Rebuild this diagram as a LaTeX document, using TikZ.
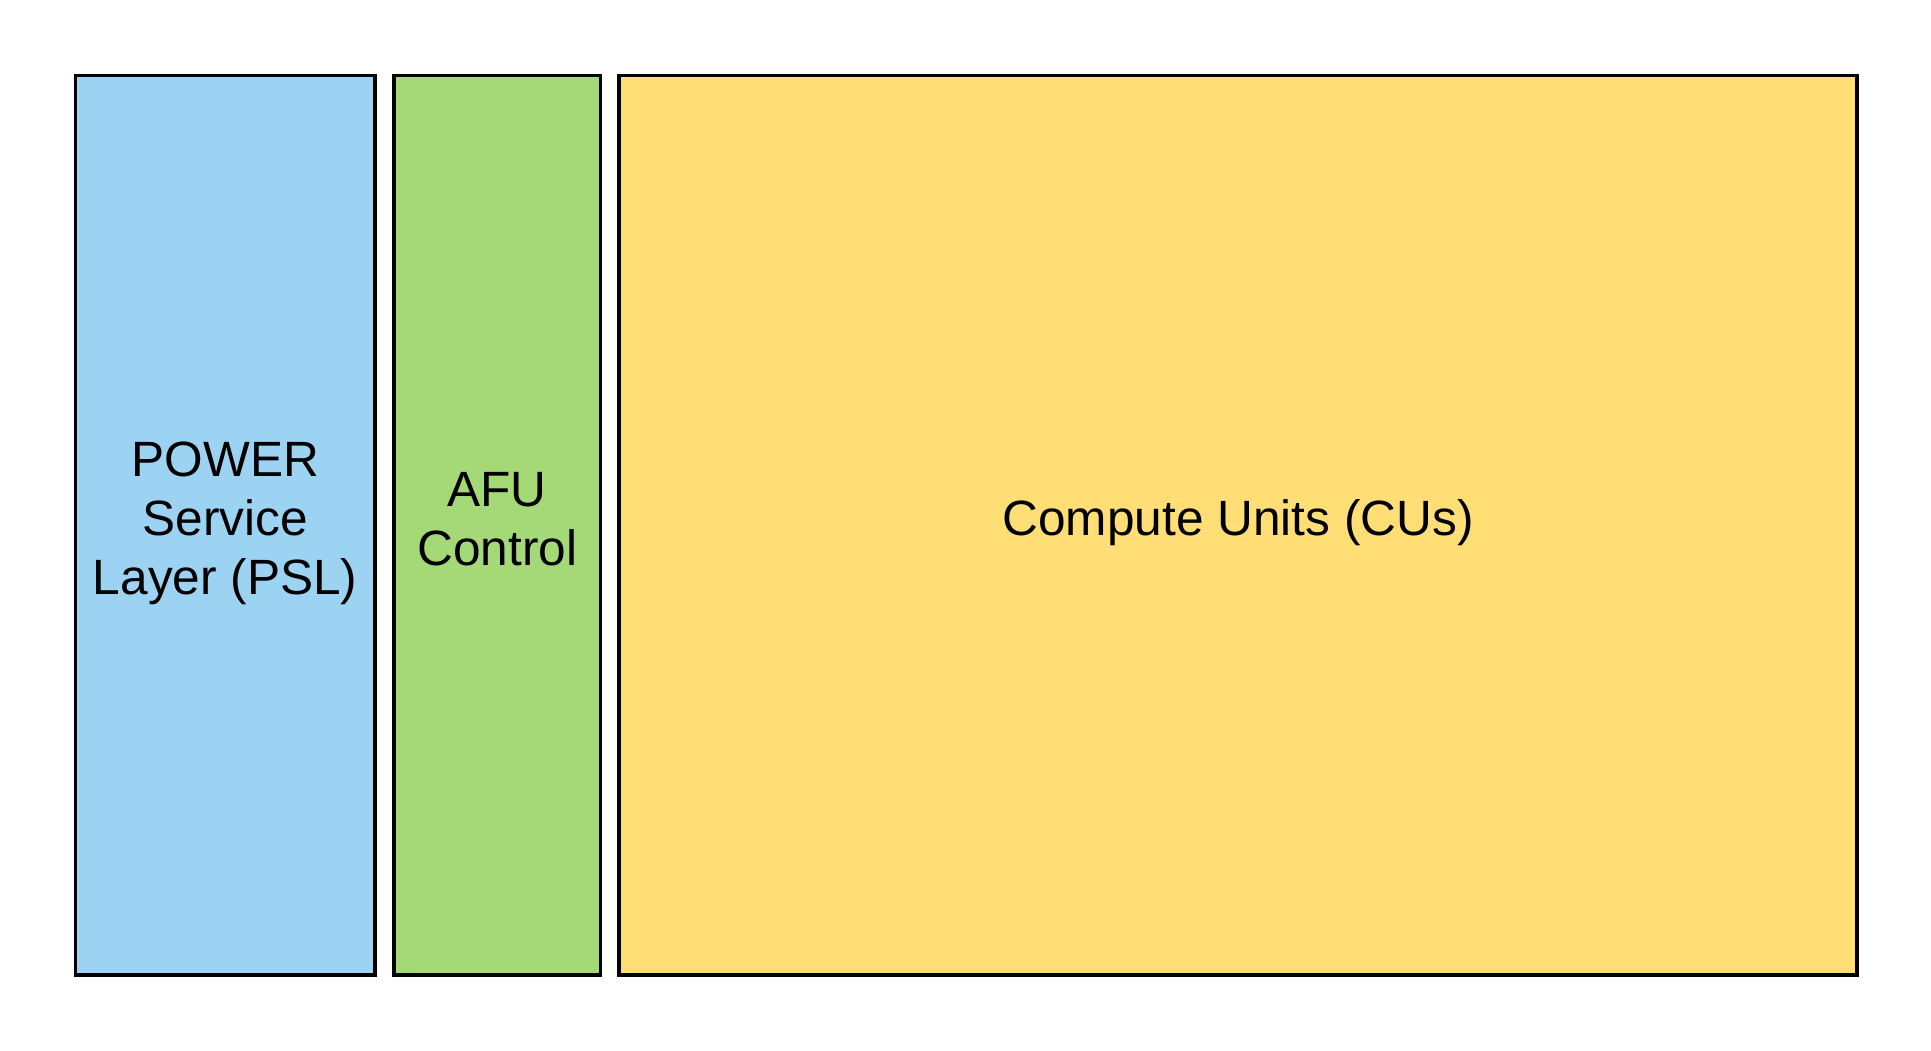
\documentclass[tikz,border=0pt]{standalone}
\usepackage{fontspec}
\setmainfont{Liberation Sans}
\definecolor{pslblue}{RGB}{157,211,242}
\definecolor{afugreen}{RGB}{165,217,119}
\definecolor{cuyellow}{RGB}{255,222,117}
\begin{document}
\begin{tikzpicture}[x=1pt,y=-1pt,
  blockbox/.style={draw=black,line width=3.6pt},
  blocktext/.style={font=\fontsize{49.6}{59}\selectfont,align=center,text=black,inner sep=0pt}]
\useasboundingbox[fill=white] (0,0) rectangle (1931,1050);
\path[blockbox,fill=pslblue] (75.5,75.3) rectangle (375,974.7);
\path[blockbox,fill=afugreen] (394,75.3) rectangle (600.5,974.7);
\path[blockbox,fill=cuyellow] (619,75.3) rectangle (1857,974.7);
\node[blocktext] (psl) at (225.2,523) {POWER\\Service\\Layer (PSL)};
\node[blocktext] (afu) at (497.2,519) {AFU\\Control};
\node[blocktext] (cu) at (1238,523) {Compute Units (CUs)};
\end{tikzpicture}
\end{document}
